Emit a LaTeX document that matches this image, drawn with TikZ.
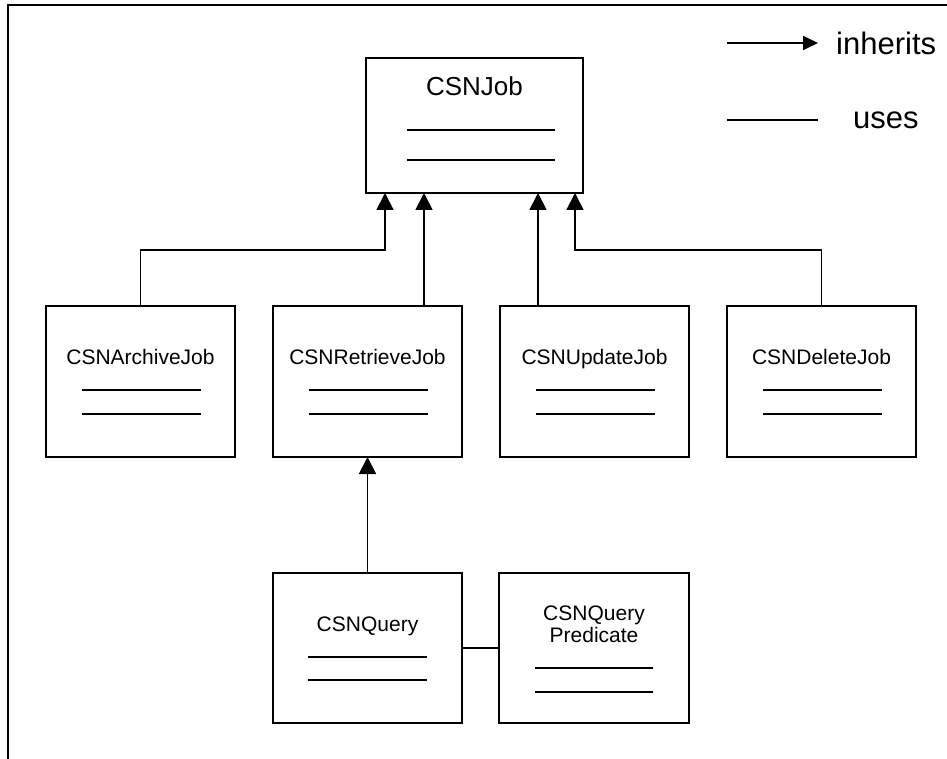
\documentclass[tikz,border=0pt]{standalone}
\usepackage{fontspec}
\setmainfont{Liberation Sans}
\usetikzlibrary{arrows.meta}
\newcommand\classbox[4]{%
  \node[box, minimum width=189pt, minimum height=151pt] (#1) at (#2,#3) {};
  \node[lbl, anchor=base] (#1t) at (#2+94.5,#3+58) {#4};
  \draw[sep] (#2+36,#3+84) -- (#2+155,#3+84);
  \draw[sep] (#2+36,#3+108) -- (#2+155,#3+108);
}
\begin{document}
\begin{tikzpicture}[x=1pt,y=-1pt,
  box/.style={draw, line width=2pt, inner sep=0pt, outer sep=0pt, anchor=north west},
  lbl/.style={font=\fontsize{21}{22}\selectfont, inner sep=0pt, align=center},
  sep/.style={line width=1.3pt},
  inh/.style={line width=1.8pt, -{Triangle[length=17pt,width=17pt]}},
  legarrow/.style={line width=1.8pt, -{Triangle[length=15pt,width=14pt]}},
  use/.style={line width=1.8pt},
  legtext/.style={font=\fontsize{31}{34}\selectfont, inner sep=0pt, anchor=west}]
\useasboundingbox (0,0) rectangle (947,759);
\draw[line width=2.2pt] (8,759) -- (8,5) -- (947,5);

% CSNJob
\node[box, minimum width=217pt, minimum height=135pt] (job) at (366,58) {};
\node[lbl, font=\fontsize{26}{28}\selectfont, anchor=base] (jobt) at (474.5,96) {CSNJob};
\draw[sep] (407,130) -- (555,130);
\draw[sep] (407,160) -- (555,160);

% subclasses
\classbox{arch}{46}{306}{CSNArchiveJob}
\classbox{ret}{273}{306}{CSNRetrieveJob}
\classbox{upd}{500}{306}{CSNUpdateJob}
\classbox{del}{727}{306}{CSNDeleteJob}

% query
\node[box, minimum width=189pt, minimum height=150pt] (qry) at (273,573) {};
\node[lbl, anchor=base] (qryt) at (367.5,631) {CSNQuery};
\draw[sep] (308,657) -- (427,657);
\draw[sep] (308,680) -- (427,680);

\node[box, minimum width=190pt, minimum height=150pt] (pred) at (499,573) {};
\node[lbl, anchor=base] (predt1) at (594,620) {CSNQuery};
\node[lbl, anchor=base] (predt2) at (594,642) {Predicate};
\draw[sep] (535,668) -- (653,668);
\draw[sep] (535,692) -- (653,692);

% inheritance connectors
\coordinate (jA) at (385,193);
\coordinate (jB) at (424,193);
\coordinate (jC) at (538,193);
\coordinate (jD) at (575,193);
\draw[inh] (arch.north) -- ++(0,-56) -| (jA);
\draw[inh] (jB |- ret.north) -- (jB);
\draw[inh] (jC |- upd.north) -- (jC);
\draw[inh] (del.north) -- ++(0,-56) -| (jD);
\draw[inh] (qry.north) -- (ret.south);
\draw[use] (qry.east) -- (pred.west);

% legend
\coordinate (la1) at (727,43);
\coordinate (la2) at (818,43);
\coordinate (lb1) at (727,120);
\coordinate (lb2) at (818,120);
\draw[legarrow] (la1) -- (la2);
\draw[use] (lb1) -- (lb2);
\node[legtext] (linh) at (836,43.5) {inherits};
\node[legtext] (luse) at (853,120) {uses};
\end{tikzpicture}
\end{document}
